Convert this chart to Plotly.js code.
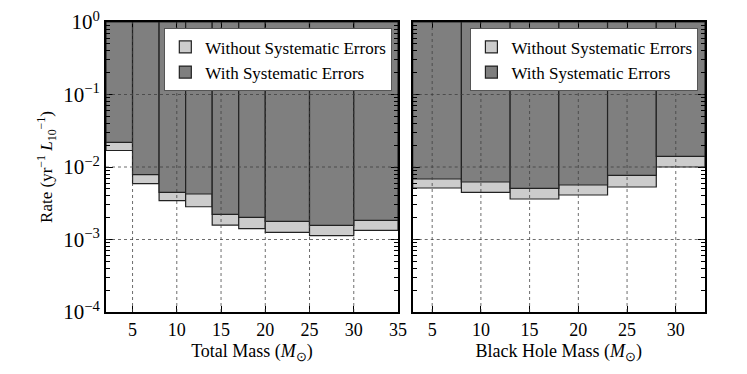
<!DOCTYPE html>
<html>
<head>
<meta charset="utf-8">
<script src="https://cdn.plot.ly/plotly-3.0.1.min.js"></script>
<style>
  html, body { margin: 0; padding: 0; background: #fff; }
  #plot { width: 747px; height: 374px; }
</style>
</head>
<body>
<div id="plot"></div>
<script>
// upper limits on the rate, per mass bin
const totalMassEdges = [2, 5, 8, 11, 14, 17, 20, 25, 30, 35];
const totalWithSys = [0.0219, 0.00783, 0.00447, 0.00424, 0.00222, 0.00202, 0.00178, 0.00157, 0.00183];
const totalNoSys = [0.0169, 0.00589, 0.00343, 0.00283, 0.00158, 0.00141, 0.00125, 0.00113, 0.00134];

const bhMassEdges = [3, 8, 13, 18, 23, 28, 33];
const bhWithSys = [0.00683, 0.00621, 0.00507, 0.00565, 0.00766, 0.0140];
const bhNoSys = [0.00513, 0.00447, 0.00362, 0.00411, 0.0053, 0.0100];

const yTickVals = [1e-4, 1e-3, 1e-2, 1e-1, 1];
const yTickText = ["10<sup>−4</sup>", "10<sup>−3</sup>", "10<sup>−2</sup>", "10<sup>−1</sup>", "10<sup>0</sup>"];
const xTickVals = [5, 10, 15, 20, 25, 30, 35];

const TOP = 1; // bars hang down from the top of the plot
const LIGHT = "#cccccc";
const DARK = "#7f7f7f";
const EDGE = "#222222";
const FONT = "Liberation Serif";

function centers(edges) {
  return edges.slice(0, -1).map((e, i) => (e + edges[i + 1]) / 2);
}
function widths(edges) {
  return edges.slice(0, -1).map((e, i) => edges[i + 1] - e);
}

function limitBars(edges, vals, name, color, xaxis, yaxis, legend) {
  return {
    type: "bar",
    x: centers(edges),
    width: widths(edges),
    base: vals,
    y: vals.map((v) => TOP - v),
    name: name,
    xaxis: xaxis,
    yaxis: yaxis,
    legend: legend,
    marker: { color: color, line: { color: EDGE, width: 1.2 } },
    hoverinfo: "skip",
  };
}

const traces = [
  limitBars(totalMassEdges, totalNoSys, "Without Systematic Errors", LIGHT, "x", "y", "legend"),
  limitBars(totalMassEdges, totalWithSys, "With Systematic Errors", DARK, "x", "y", "legend"),
  limitBars(bhMassEdges, bhNoSys, "Without Systematic Errors", LIGHT, "x2", "y2", "legend2"),
  limitBars(bhMassEdges, bhWithSys, "With Systematic Errors", DARK, "x2", "y2", "legend2"),
];

// minor log ticks
const minorVals = [];
for (let d = -4; d < 0; d++) {
  for (let k = 2; k <= 9; k++) minorVals.push(k * Math.pow(10, d));
}

// dotted grid drawn above the bars, like the original
const shapes = [];
function grid(xref, yref, xs, ys) {
  xs.forEach((v) =>
    shapes.push({
      type: "line", layer: "above", xref: xref, yref: yref + " domain",
      x0: v, x1: v, y0: 0, y1: 1,
      line: { color: "rgba(60,60,60,0.75)", width: 1, dash: "dot" },
    })
  );
  ys.forEach((v) =>
    shapes.push({
      type: "line", layer: "above", xref: xref + " domain", yref: yref,
      x0: 0, x1: 1, y0: v, y1: v,
      line: { color: "rgba(60,60,60,0.75)", width: 1, dash: "dot" },
    })
  );
}
grid("x", "y", [5, 10, 15, 20, 25, 30], [1e-3, 1e-2, 1e-1]);
grid("x2", "y2", [5, 10, 15, 20, 25, 30], [1e-3, 1e-2, 1e-1]);

const xBase = {
  showgrid: false,
  zeroline: false,
  showline: true,
  linecolor: "#000",
  linewidth: 2,
  mirror: "allticks",
  ticks: "inside",
  ticklen: 6,
  tickcolor: "#000",
  tickwidth: 1,
  tickvals: xTickVals,
  tickfont: { family: FONT, size: 18, color: "#000" },
  layer: "above traces",
};
const yBase = {
  type: "log",
  range: [-4, 0],
  showgrid: false,
  zeroline: false,
  showline: true,
  linecolor: "#000",
  linewidth: 2,
  mirror: "allticks",
  ticks: "inside",
  ticklen: 7,
  tickcolor: "#000",
  tickwidth: 1,
  tickvals: yTickVals,
  ticktext: yTickText,
  tickfont: { family: FONT, size: 21, color: "#000" },
  minor: { tickmode: "array", tickvals: minorVals, ticks: "inside", ticklen: 4, tickcolor: "#000", tickwidth: 1 },
  layer: "above traces",
};

const legendBase = {
  bgcolor: "#fff",
  bordercolor: "#555",
  borderwidth: 1,
  font: { family: FONT, size: 17, color: "#000" },
  traceorder: "normal",
  yanchor: "top",
  xanchor: "right",
  y: 0.978,
  tracegroupgap: 0,
  itemwidth: 30,
};

const layout = {
  width: 747,
  height: 374,
  margin: { l: 106, r: 42, t: 22, b: 62 },
  paper_bgcolor: "#fff",
  plot_bgcolor: "#fff",
  barmode: "overlay",
  bargap: 0,
  font: { family: FONT, color: "#000" },
  xaxis: Object.assign({}, xBase, {
    domain: [0, 0.4875],
    range: [2, 35],
    title: { text: "Total Mass (<i>M</i><sub>⊙</sub>)", font: { family: FONT, size: 18 }, standoff: 6 },
  }),
  yaxis: Object.assign({}, yBase, {
    title: { text: "Rate (yr<sup>−1</sup> <i>L</i><sub>10</sub><sup>−1</sup>)", font: { family: FONT, size: 17 }, standoff: 6 },
  }),
  xaxis2: Object.assign({}, xBase, {
    domain: [0.512, 1],
    range: [3, 33],
    anchor: "y2",
    title: { text: "Black Hole Mass (<i>M</i><sub>⊙</sub>)", font: { family: FONT, size: 18 }, standoff: 6 },
  }),
  yaxis2: Object.assign({}, yBase, { anchor: "x2", showticklabels: false }),
  legend: Object.assign({}, legendBase, { x: 0.478 }),
  legend2: Object.assign({}, legendBase, { x: 0.989 }),
  shapes: shapes,
  showlegend: true,
};

Plotly.newPlot("plot", traces, layout, { displayModeBar: false, staticPlot: true });
</script>
</body>
</html>
